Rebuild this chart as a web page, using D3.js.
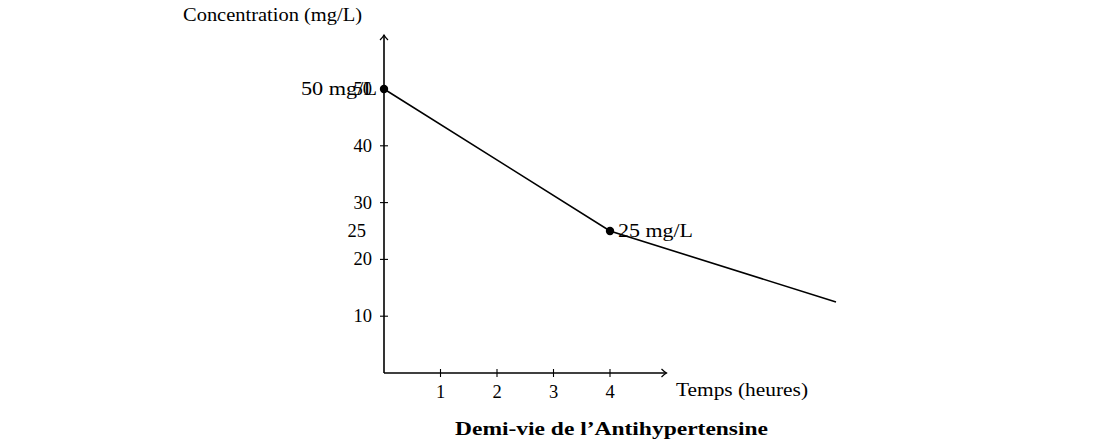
<!DOCTYPE html>
<html>
<head>
<meta charset="utf-8">
<script src="https://cdn.jsdelivr.net/npm/d3@7"></script>
<style>
  html, body { margin: 0; padding: 0; background: #fff; }
  svg text { font-family: "Liberation Serif", "DejaVu Serif", serif; fill: #000; }
</style>
</head>
<body>
<svg id="chart" width="1098" height="446"></svg>
<script>
// ---- data ----
const hours = [0, 4, 8];
const concentration = [50, 25, 12.5];
const markedPoints = [[0, 50], [4, 25]];
const pointLabels = ["50 mg/L", "25 mg/L"];
const xTicks = [1, 2, 3, 4];
const yTicks = [10, 20, 30, 40, 50];
const extraYLabel = 25;
const xAxisEnd = 5;
const yAxisEnd = 59.5;
const xTitle = "Temps (heures)";
const yTitle = "Concentration (mg/L)";
const chartTitle = "Demi-vie de l\u2019Antihypertensine";

// ---- layout ----
const svg = d3.select("#chart");
const x = d3.scaleLinear().domain([0, 8]).range([384, 836]);
const y = d3.scaleLinear().domain([0, 50]).range([373, 89]);
const fs = 18.5;

// line
const line = d3.line().x((d, i) => x(hours[i])).y(d => y(d));
svg.append("path").datum(concentration)
  .attr("d", line).attr("fill", "none").attr("stroke", "#000").attr("stroke-width", 1.6);

// axes
const g = svg.append("g").attr("stroke", "#000").attr("fill", "none").attr("stroke-width", 1.6);
g.append("line").attr("x1", x(0)).attr("y1", y(0)).attr("x2", x(xAxisEnd)).attr("y2", y(0));
g.append("line").attr("x1", x(0)).attr("y1", y(0)).attr("x2", x(0)).attr("y2", y(yAxisEnd));
// arrowheads
const ax = x(xAxisEnd), ay = y(0);
g.append("path").attr("d", `M${ax-5},${ay-4} Q${ax-2},${ay-1} ${ax},${ay} Q${ax-2},${ay+1} ${ax-5},${ay+4}`).attr("stroke-width", 1.2);
const bx = x(0), by = y(yAxisEnd);
g.append("path").attr("d", `M${bx-4},${by+5} Q${bx-1},${by+2} ${bx},${by} Q${bx+1},${by+2} ${bx+4},${by+5}`).attr("stroke-width", 1.2);

// ticks
g.selectAll(".xt").data(xTicks).enter().append("line")
  .attr("x1", d => x(d)).attr("x2", d => x(d)).attr("y1", y(0) - 4).attr("y2", y(0) + 4).attr("stroke-width", 1.1);
g.selectAll(".yt").data(yTicks).enter().append("line")
  .attr("y1", d => y(d)).attr("y2", d => y(d)).attr("x1", x(0) - 4).attr("x2", x(0) + 4).attr("stroke-width", 1.1);

// tick labels
svg.selectAll(".xl").data(xTicks).enter().append("text")
  .attr("x", d => x(d)).attr("y", y(0) + 25).attr("text-anchor", "middle").attr("font-size", fs).text(d => d);
svg.selectAll(".yl").data(yTicks).enter().append("text")
  .attr("x", x(0) - 12).attr("y", d => y(d) + 6).attr("text-anchor", "end").attr("font-size", fs).text(d => d);
svg.append("text").attr("x", x(0) - 18).attr("y", y(extraYLabel) + 6)
  .attr("text-anchor", "end").attr("font-size", fs).text(extraYLabel);

// points
svg.selectAll(".pt").data(markedPoints).enter().append("circle")
  .attr("cx", d => x(d[0])).attr("cy", d => y(d[1])).attr("r", 4.2).attr("fill", "#000");

// point labels
svg.append("text").attr("x", x(markedPoints[0][0]) - 7).attr("y", y(markedPoints[0][1]) + 6)
  .attr("text-anchor", "end").attr("font-size", fs).attr("textLength", 76).attr("lengthAdjust", "spacingAndGlyphs").text(pointLabels[0]);
svg.append("text").attr("x", x(markedPoints[1][0]) + 8).attr("y", y(markedPoints[1][1]) + 6)
  .attr("text-anchor", "start").attr("font-size", fs).attr("textLength", 75).attr("lengthAdjust", "spacingAndGlyphs").text(pointLabels[1]);

// axis titles
svg.append("text").attr("x", 676).attr("y", 396).attr("font-size", fs)
  .attr("textLength", 132).attr("lengthAdjust", "spacingAndGlyphs").text(xTitle);
svg.append("text").attr("x", 183).attr("y", 21).attr("font-size", fs)
  .attr("textLength", 179).attr("lengthAdjust", "spacingAndGlyphs").text(yTitle);

// chart title
svg.append("text").attr("x", 455).attr("y", 435).attr("font-size", fs).attr("font-weight", "bold")
  .attr("textLength", 313).attr("lengthAdjust", "spacingAndGlyphs").text(chartTitle);
</script>
</body>
</html>
